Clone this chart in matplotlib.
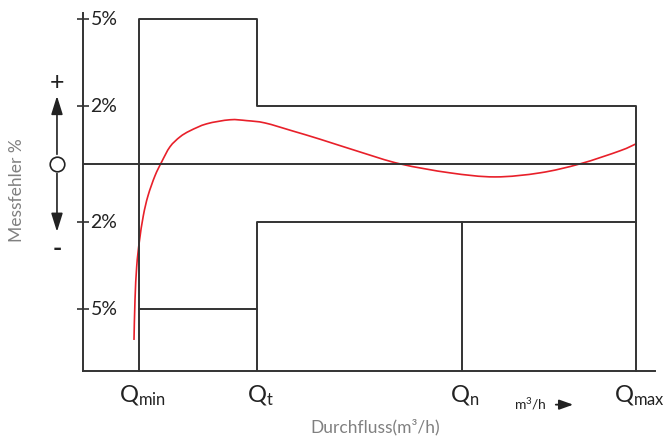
import matplotlib
matplotlib.use("Agg")
import matplotlib.pyplot as plt
from matplotlib import transforms
from matplotlib.path import Path
from matplotlib.patches import PathPatch

plt.rcParams['font.family'] = ['Lato', 'DejaVu Sans']
plt.rcParams['mathtext.fontset'] = 'custom'
plt.rcParams['mathtext.rm'] = 'Lato'
plt.rcParams['mathtext.it'] = 'Lato'

# flow positions (arbitrary units along the axis)
q_pos = [56, 174, 379, 553]
q_labels = ['Q$_{\\mathrm{min}}$', 'Q$_{\\mathrm{t}}$', 'Q$_{\\mathrm{n}}$', 'Q$_{\\mathrm{max}}$']

# error limits in %
tick_vals = [5, 2, -2, -5]
tick_labels = ['5%', '2%', '2%', '5%']
upper_lim = [5, 2]     # Qmin..Qt, Qt..Qmax
lower_lim = [-5, -2]

curve_x = [51, 52, 53.7, 56.3, 60.3, 65, 72, 78.7, 87, 97, 107, 123.7, 147, 163.7, 182,
           210, 237, 277, 317, 367, 412, 457, 497, 537, 553]
curve_y = [-6.07, -4.69, -3.54, -2.69, -1.79, -1.10, -0.41, 0.07, 0.59, 0.93, 1.14, 1.38,
           1.52, 1.49, 1.41, 1.13, 0.85, 0.41, 0.0, -0.31, -0.45, -0.31, 0.0, 0.45, 0.69]

x_max = 572
y_bot, y_top = -7.14, 5.2

line_c = '#333333'
fig = plt.figure(figsize=(6.67, 4.39), dpi=100)
ax = fig.add_axes([83 / 667, 1 - 372 / 439, 572 / 667, 358 / 439])
ax.set_xlim(0, x_max)
ax.set_ylim(y_bot, y_top)

for s in ['top', 'right']:
    ax.spines[s].set_visible(False)
for s in ['left', 'bottom']:
    ax.spines[s].set_color(line_c)
    ax.spines[s].set_linewidth(1.4)

lw = 1.4
qmin, qt, qn, qmax = q_pos
# upper limit envelope
ax.plot([qmin, qmin, qt, qt, qmax, qmax], [y_bot, upper_lim[0], upper_lim[0], upper_lim[1], upper_lim[1], y_bot],
        color=line_c, lw=lw, clip_on=False)
# lower limit envelope
ax.plot([qmin, qt], [lower_lim[0], lower_lim[0]], color=line_c, lw=lw)
ax.plot([qt, qt, qmax], [y_bot, lower_lim[1], lower_lim[1]], color=line_c, lw=lw)
ax.plot([qn, qn], [lower_lim[1], y_bot], color=line_c, lw=lw)
# zero line
ax.plot([0, qmax], [0, 0], color=line_c, lw=lw)

# smooth red curve: Catmull-Rom through the read points, drawn in display space
pts = ax.transData.transform(list(zip(curve_x, curve_y)))
verts = [tuple(pts[0])]
codes = [Path.MOVETO]
n = len(pts)
for i in range(n - 1):
    p0 = pts[max(i - 1, 0)]
    p1 = pts[i]
    p2 = pts[i + 1]
    p3 = pts[min(i + 2, n - 1)]
    c1 = p1 + (p2 - p0) / 6.0
    c2 = p2 - (p3 - p1) / 6.0
    verts += [tuple(c1), tuple(c2), tuple(p2)]
    codes += [Path.CURVE4] * 3
inv = ax.transData.inverted()
curve_path = Path(inv.transform(verts), codes)
ax.add_patch(PathPatch(curve_path, fill=False, edgecolor='#e8202a', lw=1.2))

ax.set_xticks([])
ax.set_yticks(tick_vals)
ax.set_yticklabels([])
ax.tick_params(axis='y', direction='inout', length=9, width=1.2, color=line_c)

ytr = transforms.blended_transform_factory(ax.transAxes, ax.transData)
for v, lab in zip(tick_vals, tick_labels):
    ax.text(0.013, v, lab, transform=ytr, ha='left', va='center', fontsize=14, color='#222222')

for x, lab in zip(q_pos, q_labels):
    ax.text(x + 3, -7.55, lab, ha='center', va='top', fontsize=17, color='#222222', clip_on=False)

# units hint with arrow
ax.text(447, -8.25, 'm$^{3}$/h', ha='center', va='center', fontsize=10, color='#222222')
ax.annotate('', xy=(493, -8.3), xytext=(470, -8.3), xycoords='data',
            arrowprops=dict(arrowstyle='-|>,head_length=0.7,head_width=0.25', color='#222222',
                            lw=1.3, mutation_scale=12), annotation_clip=False)

# sign indicator left of the axis
sx = -0.0455
ax.plot([sx], [0], marker='o', ms=10.5, mfc='white', mec='#222222', mew=1.2,
        transform=ytr, clip_on=False)
ax.annotate('', xy=(sx, 2.34), xytext=(sx, 0.33), xycoords=ytr, textcoords=ytr,
            arrowprops=dict(arrowstyle='-|>,head_length=0.8,head_width=0.25', color='#222222',
                            lw=1.2, mutation_scale=14, shrinkA=0, shrinkB=0), annotation_clip=False)
ax.annotate('', xy=(sx, -2.34), xytext=(sx, -0.33), xycoords=ytr, textcoords=ytr,
            arrowprops=dict(arrowstyle='-|>,head_length=0.8,head_width=0.25', color='#222222',
                            lw=1.2, mutation_scale=14, shrinkA=0, shrinkB=0), annotation_clip=False)
ax.text(sx, 2.83, '+', transform=ytr, ha='center', va='center', fontsize=18, color='#222222')
ax.text(sx, -2.9, '-', transform=ytr, ha='center', va='center', fontsize=18,
        fontweight='bold', color='#222222')

fig.text(17 / 667, 1 - 190 / 439, 'Messfehler %', rotation=90, ha='center', va='center',
         fontsize=12.5, color='#808080')
fig.text(375 / 667, 1 - 427 / 439, 'Durchfluss(m³/h)', ha='center', va='center',
         fontsize=12.5, color='#808080')

fig.savefig('out.png', dpi=100)
